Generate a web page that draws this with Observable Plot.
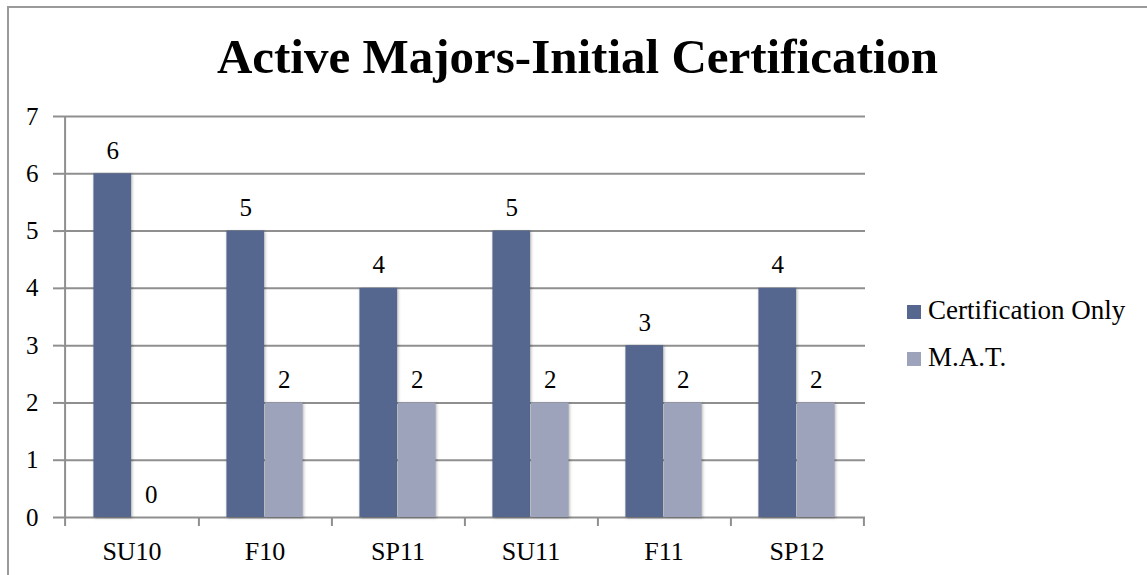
<!DOCTYPE html>
<html>
<head>
<meta charset="utf-8">
<script src="https://cdn.jsdelivr.net/npm/d3@7"></script>
<script src="https://cdn.jsdelivr.net/npm/@observablehq/plot@0.6"></script>
<style>
  html, body { margin: 0; padding: 0; background: #fff; overflow: hidden; }
  #wrap { position: relative; width: 1147px; height: 575px; overflow: hidden; font-family: "Liberation Serif", serif; }
  #border { position: absolute; left: 7px; top: 6px; width: 2000px; height: 2000px; border-left: 2px solid #9a9a9a; border-top: 2px solid #9a9a9a; }
  #title { position: absolute; top: 32px; left: 577.5px; transform: translateX(-50%); white-space: nowrap; font-size: 49px; line-height: 49px; font-weight: bold; color: #000; }
  #chart { position: absolute; left: 0; top: 0; }
  #chart svg text { font-family: "Liberation Serif", serif; }
  .leg { position: absolute; left: 907px; height: 27px; font-size: 27px; line-height: 27px; white-space: nowrap; color: #000; }
  .leg .sw { position: absolute; left: 0; width: 14px; height: 14px; }
  .leg .lb { position: absolute; left: 21px; top: 0; }
  g[aria-label="bar"] rect { filter: drop-shadow(1px 1px 1.5px rgba(0,0,0,0.3)); }
</style>
</head>
<body>
<div id="wrap">
  <div id="border"></div>
  <div id="chart"></div>
  <div id="title">Active Majors-Initial Certification</div>
  <div id="legend"></div>
</div>
<script>
// ---- data ----
const categories = ["SU10", "F10", "SP11", "SU11", "F11", "SP12"];
const seriesNames = ["Certification Only", "M.A.T."];
const certificationOnly = [6, 5, 4, 5, 3, 4];
const mat = [0, 2, 2, 2, 2, 2];
const yTicks = [0, 1, 2, 3, 4, 5, 6, 7];
const seriesColors = ["#56678f", "#9ca3ba"];

// ---- layout ----
const W = 1147, H = 575;
const mL = 62, mR = 282, mT = 116, mB = 58;
const bandW = (W - mL - mR) / categories.length;
const barW = 38.5;
const side = (bandW - 2 * barW) / 2;
const gridColor = "#8f8f8f";
const tickLen = 9 / ((H - mT - mB) / 7); // 9px expressed in y units

const rows = [];
categories.forEach((c, i) => {
  rows.push({period: c, series: seriesNames[0], value: certificationOnly[i]});
  rows.push({period: c, series: seriesNames[1], value: mat[i]});
});
const s0 = rows.filter(d => d.series === seriesNames[0]);
const s1 = rows.filter(d => d.series === seriesNames[1]);

const chart = Plot.plot({
  width: W,
  height: H,
  marginLeft: mL,
  marginRight: mR,
  marginTop: mT,
  marginBottom: mB,
  style: {fontFamily: "Liberation Serif, serif", background: "transparent", color: "#000"},
  x: {type: "band", domain: categories, padding: 0, axis: null},
  y: {domain: [0, 7], axis: null},
  color: {domain: seriesNames, range: seriesColors},
  marks: [
    // gridlines
    Plot.ruleY(yTicks.slice(1), {stroke: gridColor, strokeWidth: 2}),
    // x axis line
    Plot.ruleY([0], {stroke: gridColor, strokeWidth: 2}),
    // y axis ticks + labels
    Plot.axisY({ticks: yTicks, tickSize: 9, tickPadding: 15, fontSize: 25, stroke: gridColor, strokeWidth: 2, fill: "#000", label: null, tickFormat: d => String(d)}),
    // y axis line (at left edge of first band), extending down as first x tick
    Plot.ruleX([categories[0]], {x: d => d, dx: -bandW / 2, y1: -tickLen, y2: 7, stroke: gridColor, strokeWidth: 2}),
    // x ticks at category boundaries
    Plot.ruleX(categories, {x: d => d, dx: bandW / 2, y1: 0, y2: -tickLen, stroke: gridColor, strokeWidth: 2}),
    // x labels
    Plot.axisX({tickSize: 0, tickPadding: 24, fontSize: 26, fill: "#000", label: null}),
    // bars
    Plot.barY(s0, {x: "period", y: "value", fill: "series", insetLeft: side, insetRight: bandW - side - barW}),
    Plot.barY(s1, {x: "period", y: "value", fill: "series", insetLeft: side + barW, insetRight: side}),
    // value labels
    Plot.text(s0, {x: "period", y: "value", text: d => String(d.value), dx: -barW / 2, dy: -15, lineAnchor: "bottom", fontSize: 25, fill: "#000"}),
    Plot.text(s1, {x: "period", y: "value", text: d => String(d.value), dx: barW / 2, dy: -15, lineAnchor: "bottom", fontSize: 25, fill: "#000"})
  ]
});
document.getElementById("chart").appendChild(chart);

// legend
const legend = document.getElementById("legend");
const legTops = [297, 344];
seriesNames.forEach((name, i) => {
  const item = document.createElement("div");
  item.className = "leg";
  item.style.top = legTops[i] + "px";
  const sw = document.createElement("div");
  sw.className = "sw";
  sw.style.top = "8px";
  sw.style.background = seriesColors[i];
  const lb = document.createElement("div");
  lb.className = "lb";
  lb.textContent = name;
  item.appendChild(sw);
  item.appendChild(lb);
  legend.appendChild(item);
});
</script>
</body>
</html>
